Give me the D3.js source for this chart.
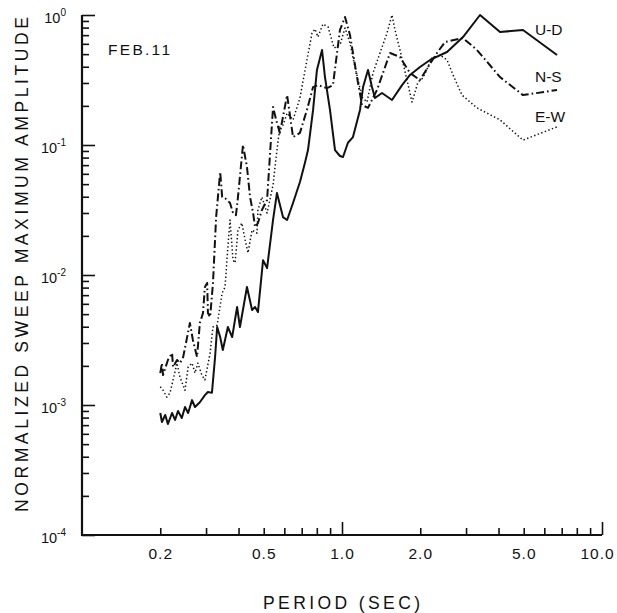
<!DOCTYPE html>
<html>
<head>
<meta charset="utf-8">
<script src="https://cdn.jsdelivr.net/npm/d3@7"></script>
<style>
  html, body { margin: 0; padding: 0; background: #fff; }
  svg { display: block; }
  text { font-family: "Liberation Sans", "DejaVu Sans", sans-serif; fill: #111; }
</style>
</head>
<body>
<svg id="chart" width="617" height="613"></svg>
<script>
// ---- Data (period in seconds, normalized sweep maximum amplitude) ----
const udPeriod = [0.200,0.203,0.209,0.214,0.222,0.228,0.234,0.242,0.249,0.256,0.265,0.272,0.284,0.297,0.305,0.316,0.325,0.331,0.340,0.348,0.364,0.378,0.395,0.405,0.431,0.451,0.463,0.475,0.497,0.515,0.543,0.562,0.593,0.615,0.648,0.689,0.720,0.740,0.774,0.801,0.838,0.860,0.899,0.940,0.982,1.009,1.054,1.102,1.173,1.205,1.259,1.304,1.339,1.425,1.557,1.702,1.826,1.995,2.181,2.535,2.920,3.395,4.053,4.968,6.714];
const udAmp = [0.000868,0.000740,0.000838,0.000714,0.000868,0.000767,0.000899,0.000794,0.000965,0.000868,0.00109,0.000965,0.00105,0.00119,0.00126,0.00124,0.00234,0.00398,0.00333,0.00265,0.00398,0.00333,0.00567,0.00398,0.00809,0.00538,0.00567,0.00519,0.0130,0.0113,0.0265,0.0427,0.0279,0.0265,0.0358,0.0519,0.0727,0.0915,0.186,0.378,0.538,0.333,0.186,0.0915,0.0823,0.0809,0.104,0.115,0.186,0.279,0.378,0.279,0.230,0.251,0.222,0.289,0.346,0.398,0.451,0.519,0.677,1.0,0.740,0.767,0.492];

const nsPeriod = [0.200,0.203,0.205,0.214,0.222,0.224,0.232,0.238,0.245,0.260,0.267,0.277,0.284,0.292,0.297,0.303,0.305,0.311,0.319,0.328,0.340,0.346,0.355,0.371,0.381,0.391,0.398,0.416,0.431,0.443,0.455,0.463,0.475,0.492,0.515,0.543,0.562,0.577,0.615,0.648,0.689,0.733,0.774,0.808,0.876,0.923,0.982,1.027,1.073,1.142,1.194,1.259,1.363,1.530,1.671,1.826,1.995,2.142,2.319,2.490,2.920,3.305,4.053,4.968,6.714];
const nsAmp = [0.00176,0.00210,0.00170,0.00222,0.00251,0.00196,0.00222,0.00210,0.00234,0.00427,0.00316,0.00234,0.00427,0.00510,0.00809,0.00868,0.00510,0.00475,0.00868,0.0279,0.0620,0.0398,0.0391,0.0358,0.0300,0.0289,0.0398,0.100,0.0677,0.0398,0.0300,0.0234,0.0251,0.0316,0.0378,0.196,0.148,0.124,0.242,0.115,0.124,0.186,0.279,0.289,0.274,0.289,0.767,0.965,0.702,0.333,0.203,0.193,0.265,0.510,0.475,0.358,0.316,0.398,0.510,0.620,0.665,0.538,0.333,0.242,0.265];

const ewPeriod = [0.200,0.205,0.212,0.218,0.224,0.232,0.238,0.249,0.256,0.265,0.272,0.279,0.289,0.297,0.311,0.319,0.331,0.346,0.355,0.364,0.371,0.381,0.388,0.398,0.412,0.424,0.435,0.451,0.471,0.475,0.492,0.515,0.543,0.562,0.577,0.593,0.615,0.648,0.689,0.733,0.767,0.787,0.808,0.845,0.884,0.932,0.982,1.027,1.073,1.122,1.194,1.248,1.316,1.400,1.490,1.557,1.599,1.671,1.778,1.859,1.960,2.049,2.219,2.382,2.535,2.673,2.894,3.305,4.053,4.968,6.714];
const ewAmp = [0.00138,0.00130,0.00115,0.00124,0.00156,0.00210,0.00164,0.00130,0.00196,0.00210,0.00176,0.00210,0.00170,0.00156,0.00251,0.00398,0.00412,0.00727,0.00809,0.0164,0.0265,0.0130,0.0124,0.0222,0.0251,0.0186,0.0148,0.0222,0.0210,0.0316,0.0398,0.0300,0.0492,0.0915,0.138,0.142,0.176,0.156,0.230,0.451,0.727,0.780,0.677,0.853,0.809,0.557,0.588,0.794,0.609,0.398,0.234,0.214,0.358,0.510,0.727,1.0,0.767,0.538,0.316,0.214,0.305,0.328,0.467,0.492,0.451,0.346,0.242,0.193,0.156,0.109,0.138];

const seriesNames = ["U-D", "N-S", "E-W"];
const xMinorTicks = [0.2,0.3,0.4,0.5,0.6,0.7,0.8,0.9,2,3,4,5,6,7,8,9];
const xMajorTicks = [1, 10];
const xTickLabels = [0.2, 0.5, 1, 2, 5, 10];
const xTickText = ["0.2", "0.5", "1.0", "2.0", "5.0", "10.0"];
const yDecades = [1e-4, 1e-3, 1e-2, 1e-1, 1];
const yExponents = ["-4", "-3", "-2", "-1", "0"];
const annotation = "FEB.11";
const xTitle = "PERIOD (SEC)";
const yTitle = "NORMALIZED SWEEP MAXIMUM AMPLITUDE";

// ---- Scales ----
const svg = d3.select("#chart");
const x = d3.scaleLog().domain([0.1, 10]).range([82, 602]);
const y = d3.scaleLog().domain([1e-4, 1]).range([535, 15]);

// ---- Axes ----
const yMinor = [];
for (let e = -4; e < 0; e++) for (let k = 2; k <= 9; k++) yMinor.push(k * Math.pow(10, e));

const axisStyle = g => { g.selectAll("path.domain").remove(); g.selectAll("line").attr("stroke", "#111").attr("stroke-width", 1.6); };

svg.append("g").attr("transform", "translate(0,535)")
  .call(d3.axisBottom(x).tickValues(xMinorTicks).tickSize(-7).tickFormat(""))
  .call(axisStyle);
svg.append("g").attr("transform", "translate(0,535)")
  .call(d3.axisBottom(x).tickValues(xMajorTicks).tickSize(-13).tickFormat(""))
  .call(axisStyle);
const xl = svg.append("g").attr("transform", "translate(0,535)")
  .call(d3.axisBottom(x).tickValues(xTickLabels).tickSize(0).tickPadding(13)
    .tickFormat((d, i) => xTickText[i]));
xl.select("path.domain").remove();
xl.selectAll("text").attr("font-size", 15.5).attr("fill", "#111").attr("letter-spacing", 1)
  .attr("dx", d => d === 10 ? -5 : 0);

svg.append("g").attr("transform", "translate(82,0)")
  .call(d3.axisLeft(y).tickValues(yMinor).tickSize(-7).tickFormat(""))
  .call(axisStyle);
svg.append("g").attr("transform", "translate(82,0)")
  .call(d3.axisLeft(y).tickValues(yDecades).tickSize(-13).tickFormat(""))
  .call(axisStyle);
const yl = svg.append("g").attr("transform", "translate(82,0)")
  .call(d3.axisLeft(y).tickValues(yDecades).tickSize(0).tickPadding(16).tickFormat(""));
yl.select("path.domain").remove();
yl.selectAll("g.tick").each(function(d, i) {
  const t = d3.select(this).select("text").attr("font-size", 14.5).attr("fill", "#111")
    .attr("dy", "0.55em").attr("text-anchor", "end");
  t.append("tspan").text("10");
  t.append("tspan").attr("font-size", 10).attr("dy", "-0.75em").text(yExponents[i]);
});

// axis lines
svg.append("path")
  .attr("d", d3.line()([[x(0.1), y(1)], [x(0.1), y(1e-4)], [x(10), y(1e-4)]]))
  .attr("fill", "none").attr("stroke", "#111").attr("stroke-width", 2.2);

// ---- Lines ----
const zip = (p, a) => p.map((v, i) => [v, a[i]]);
const line = d3.line().x(d => x(d[0])).y(d => y(d[1]));
const series = [
  { data: zip(udPeriod, udAmp), dash: null, w: 2.0 },
  { data: zip(nsPeriod, nsAmp), dash: "8,3,1.6,3", w: 2.0 },
  { data: zip(ewPeriod, ewAmp), dash: "1.4,2.4", w: 1.5 }
];
svg.append("g").selectAll("path").data(series).join("path")
  .attr("d", s => line(s.data))
  .attr("fill", "none")
  .attr("stroke", "#111")
  .attr("stroke-width", s => s.w)
  .attr("stroke-linejoin", "round")
  .attr("stroke-dasharray", s => s.dash);

// ---- Labels ----
const legendY = [35, 82, 122];
svg.append("g").selectAll("text").data(seriesNames).join("text")
  .attr("x", 535).attr("y", (d, i) => legendY[i])
  .attr("font-size", 15.5)
  .text(d => d);

svg.append("text").attr("x", 108).attr("y", 55).attr("font-size", 15.5)
  .attr("textLength", 62).attr("lengthAdjust", "spacing").text(annotation);

svg.append("text").attr("x", 263).attr("y", 609).attr("font-size", 17.5)
  .attr("textLength", 157).attr("lengthAdjust", "spacing").text(xTitle);

svg.append("text").attr("transform", "translate(28,512) rotate(-90)")
  .attr("font-size", 17.5)
  .attr("textLength", 495).attr("lengthAdjust", "spacing").text(yTitle);
</script>
</body>
</html>
